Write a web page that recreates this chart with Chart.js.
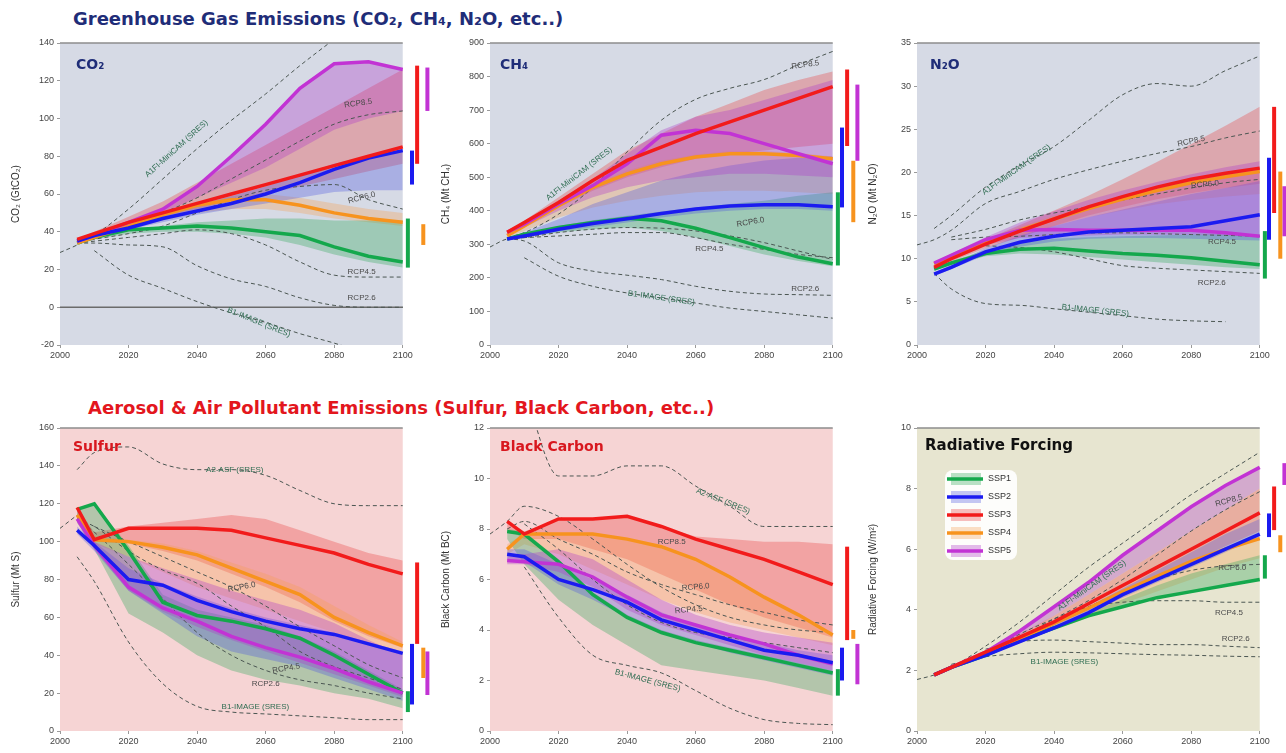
<!DOCTYPE html>
<html lang="en">
<head>
<meta charset="UTF-8">
<title>SSP emissions and radiative forcing</title>
<script src="https://cdn.jsdelivr.net/npm/chart.js"></script>
<style>
    body {
        margin: 0;
        width: 1286px;
        height: 753px;
        overflow: hidden;
        background: #fff;
        position: relative;
        font-family: "Liberation Sans", Arial, sans-serif;
    }
    canvas { position: absolute; }
    .head {
        position: absolute;
        font-family: "DejaVu Sans", sans-serif;
        font-weight: bold;
        font-size: 18px;
        white-space: nowrap;
        z-index: 5;
    }
    .lab {
        position: absolute;
        font-family: "DejaVu Sans", sans-serif;
        font-weight: bold;
        font-size: 14px;
        white-space: nowrap;
        z-index: 5;
    }
</style>
</head>
<body>
<div class="head" style="left:73px;top:8px;color:#1f2d78">Greenhouse Gas Emissions (CO₂, CH₄, N₂O, etc..)</div>
<div class="head" style="left:88px;top:397px;color:#e3161d">Aerosol &amp; Air Pollutant Emissions (Sulfur, Black Carbon, etc..)</div>
<div class="lab" style="left:76px;top:56px;color:#1f2d78">CO₂</div>
<div class="lab" style="left:500px;top:56px;color:#1f2d78">CH₄</div>
<div class="lab" style="left:930px;top:56px;color:#1f2d78">N₂O</div>
<div class="lab" style="left:73px;top:438px;color:#d8171e">Sulfur</div>
<div class="lab" style="left:500px;top:438px;color:#d8171e">Black Carbon</div>
<div class="lab" style="left:925px;top:436px;color:#111;font-size:15px">Radiative Forcing</div>

<script>
// ---- data ----
const sspNames = ['SSP1', 'SSP2', 'SSP3', 'SSP4', 'SSP5'];
const sspYears = [2005, 2010, 2020, 2030, 2040, 2050, 2060, 2070, 2080, 2090, 2100];
const refYears = [2000, 2005, 2010, 2020, 2030, 2040, 2050, 2060, 2070, 2080, 2090, 2100];
const xTicks = [2000, 2020, 2040, 2060, 2080, 2100];

// CO2 (GtCO2)
const co2Ticks = [-20, 0, 20, 40, 60, 80, 100, 120, 140];
const co2Lines = [
    [34, 37, 41, 42, 43, 42, 40, 38, 32, 27, 24],
    [35, 38, 42, 47, 51, 55, 60, 66, 73, 79, 83],
    [36, 39, 45, 50, 55, 60, 65, 70, 75, 80, 85],
    [34, 37, 43, 49, 54, 57, 57, 54, 50, 47, 45],
    [35, 38, 45, 52, 64, 80, 97, 116, 129, 130, 126]
];
const co2Lo = [
    [34, 36, 39, 40, 40, 39, 37, 33, 28, 24, 21],
    [35, 37, 41, 45, 49, 52, 55, 58, 61, 62, 62],
    [36, 38, 43, 48, 52, 56, 60, 64, 68, 72, 76],
    [34, 36, 41, 46, 50, 52, 52, 50, 47, 45, 43],
    [35, 38, 44, 50, 58, 66, 74, 84, 94, 100, 104]
];
const co2Hi = [
    [34, 37, 41, 43, 45, 46, 47, 47, 46, 46, 46],
    [35, 38, 43, 49, 54, 59, 64, 70, 76, 80, 84],
    [36, 40, 48, 56, 66, 76, 86, 96, 106, 116, 126],
    [34, 37, 44, 51, 56, 59, 60, 58, 55, 52, 50],
    [35, 38, 45, 52, 64, 80, 97, 116, 129, 130, 126]
];
const co2Ranges = [[21, 47], [65, 83], [76, 128], [33, 44], [104, 127]];
const co2Refs = [
    [29, 33, 38, 52, 68, 84, 99, 113, 128, 142, null, null],
    [null, 35, 37, 43, 50, 58, 68, 78, 88, 97, 102, 104],
    [null, 34, 36, 39, 43, 50, 57, 62, 64, 65, 57, 52],
    [null, 34, 35, 37, 39, 41, 39, 33, 24, 17, 16, 16],
    [null, 34, 34, 33, 32, 22, 15, 11, 5, 1, 0, 0],
    [null, null, 30, 17, 10, 3, -3, -8, -14, -19, -25, null]
];
const co2Zero = [0, 0, 0, 0, 0, 0, 0, 0, 0, 0, 0, 0];
const co2Notes = [
    ['A1FI-MiniCAM (SRES)', 2034, 84, -42, 1],
    ['RCP8.5', 2087, 108, -8, 0],
    ['RCP6.0', 2088, 58, -15, 0],
    ['RCP4.5', 2088, 19, 0, 0],
    ['RCP2.6', 2088, 5, 0, 0],
    ['B1-IMAGE (SRES)', 2058, -8, 22, 1]
];

// CH4 (Mt CH4)
const ch4Ticks = [0, 100, 200, 300, 400, 500, 600, 700, 800, 900];
const ch4Lines = [
    [316, 330, 350, 365, 378, 370, 348, 320, 290, 262, 242],
    [316, 325, 345, 362, 376, 392, 405, 414, 418, 418, 412],
    [336, 365, 425, 490, 550, 590, 630, 665, 700, 735, 770],
    [326, 355, 415, 470, 510, 540, 560, 570, 570, 565, 555],
    [336, 360, 420, 475, 540, 625, 640, 630, 600, 570, 540]
];
const ch4Lo = [
    [312, 322, 335, 345, 350, 340, 320, 295, 270, 250, 235],
    [312, 320, 338, 352, 365, 380, 392, 400, 405, 405, 400],
    [330, 355, 410, 460, 500, 530, 555, 570, 580, 590, 600],
    [320, 340, 380, 410, 430, 445, 455, 460, 460, 455, 450],
    [330, 350, 400, 440, 470, 490, 500, 510, 510, 505, 500]
];
const ch4Hi = [
    [316, 332, 355, 372, 385, 398, 410, 420, 430, 445, 455],
    [320, 335, 375, 420, 455, 490, 515, 535, 550, 558, 562],
    [336, 370, 440, 510, 580, 630, 680, 720, 760, 790, 815],
    [326, 357, 420, 478, 520, 550, 568, 578, 578, 572, 562],
    [336, 365, 430, 495, 570, 640, 680, 700, 730, 760, 790]
];
const ch4Ranges = [[237, 455], [410, 648], [593, 821], [366, 549], [549, 776]];
const ch4Refs = [
    [null, 320, 335, 390, 470, 575, 670, 732, 765, 791, 835, 875],
    [292, 316, 320, 325, 330, 335, 335, 320, 300, 285, 270, 260],
    [null, 316, 320, 335, 345, 350, 348, 340, 325, 305, 280, 255],
    [null, 316, 310, 245, 220, 208, 195, 175, 160, 152, 150, 148],
    [null, null, 260, 205, 175, 155, 140, 125, 110, 100, 90, 80]
];
const ch4Notes = [
    ['A1FI-MiniCAM (SRES)', 2026, 510, -38, 1],
    ['RCP8.5', 2092, 835, -8, 0],
    ['RCP6.0', 2076, 366, -10, 0],
    ['RCP4.5', 2064, 287, 0, 0],
    ['RCP2.6', 2092, 168, 0, 0],
    ['B1-IMAGE (SRES)', 2050, 140, 8, 1]
];

// N2O (Mt N2O)
const n2oTicks = [0, 5, 10, 15, 20, 25, 30, 35];
const n2oLines = [
    [8.8, 9.5, 10.6, 11.1, 11.2, 10.9, 10.6, 10.4, 10.1, 9.7, 9.3],
    [8.2, 9.0, 10.8, 11.9, 12.6, 13.1, 13.3, 13.5, 13.7, 14.4, 15.1],
    [9.0, 10.0, 11.7, 13.2, 14.6, 16.0, 17.2, 18.3, 19.2, 19.9, 20.5],
    [9.4, 10.3, 11.9, 13.3, 14.6, 15.8, 16.9, 17.9, 18.8, 19.5, 20.1],
    [9.5, 10.4, 12.2, 13.3, 13.4, 13.3, 13.3, 13.3, 13.3, 13.0, 12.6]
];
const n2oLo = [
    [8.6, 9.3, 10.3, 10.6, 10.5, 10.2, 9.9, 9.6, 9.3, 9.0, 8.8],
    [8.0, 8.8, 10.4, 11.4, 12.0, 12.3, 12.4, 12.4, 12.3, 12.2, 12.1],
    [8.8, 9.7, 11.2, 12.5, 13.8, 15.0, 16.0, 16.9, 17.6, 18.2, 18.7],
    [9.2, 10.0, 11.5, 12.7, 13.8, 14.8, 15.6, 16.3, 16.8, 17.2, 17.5],
    [9.3, 10.1, 11.6, 12.4, 12.6, 12.7, 12.8, 12.8, 12.8, 12.7, 12.6]
];
const n2oHi = [
    [8.9, 9.7, 11.0, 11.8, 12.3, 12.5, 12.6, 12.7, 12.8, 12.8, 12.8],
    [8.4, 9.3, 11.2, 12.7, 13.8, 14.8, 15.7, 16.6, 17.5, 18.2, 19.0],
    [9.2, 10.3, 12.2, 13.9, 15.6, 17.3, 19.2, 21.2, 23.3, 25.4, 27.6],
    [9.5, 10.5, 12.2, 13.7, 15.0, 16.2, 17.3, 18.3, 19.2, 19.9, 20.5],
    [9.6, 10.6, 12.5, 14.2, 15.5, 16.8, 17.9, 18.9, 19.8, 20.6, 21.3]
];
const n2oRanges = [[7.7, 13.2], [12.2, 21.7], [15.3, 27.6], [10.0, 20.1], [12.6, 18.4]];
const n2oRefs = [
    [null, 13.5, 15.0, 18.3, 20.8, 23.0, 26.0, 29.0, 30.3, 30.0, 31.8, 33.5],
    [11.6, 12.2, 13.3, 16.4, 17.8, 19.2, 20.3, 21.3, 22.2, 23.0, 24.0, 24.8],
    [null, null, 12.5, 13.4, 14.5, 15.3, 16.0, 16.8, 17.5, 18.2, 18.8, 19.2],
    [null, null, 12.2, 12.5, 12.6, 12.8, 13.0, 13.0, 12.9, 12.8, 12.7, 12.6],
    [null, null, null, 11.5, 11.3, 10.8, 10.0, 9.2, 8.9, 8.7, 8.5, 8.3],
    [null, 8.3, 6.5, 4.8, 4.6, 4.2, 3.8, 3.4, 3.0, 2.8, 2.7, null]
];
const n2oNotes = [
    ['A1FI-MiniCAM (SRES)', 2029, 20.3, -35, 1],
    ['RCP8.5', 2080, 23.6, -12, 0],
    ['RCP6.0', 2084, 18.6, -6, 0],
    ['RCP4.5', 2089, 12, 0, 0],
    ['RCP2.6', 2086, 7.2, 0, 0],
    ['B1-IMAGE (SRES)', 2052, 4, 6, 1]
];

// Sulfur (Mt S)
const sulTicks = [0, 20, 40, 60, 80, 100, 120, 140, 160];
const sulLines = [
    [117, 120, 95, 68, 61, 58, 54, 49, 40, 30, 20],
    [106, 98, 80, 77, 69, 63, 58, 54, 51, 46, 41],
    [118, 101, 107, 107, 107, 106, 102, 98, 94, 88, 83],
    [114, 101, 100, 97, 93, 86, 79, 72, 60, 52, 45],
    [112, 98, 76, 65, 58, 50, 44, 39, 33, 26, 20]
];
const sulLo = [
    [110, 96, 62, 52, 40, 32, 27, 24, 20, 17, 12],
    [104, 95, 74, 62, 50, 42, 38, 34, 28, 22, 16],
    [114, 100, 99, 95, 90, 83, 76, 68, 58, 50, 44],
    [112, 99, 92, 84, 76, 70, 64, 58, 52, 46, 40],
    [110, 96, 74, 63, 55, 48, 42, 36, 30, 24, 18]
];
const sulHi = [
    [118, 120, 98, 72, 64, 60, 56, 50, 42, 32, 22],
    [108, 100, 86, 78, 71, 65, 60, 56, 52, 47, 42],
    [118, 105, 108, 110, 112, 114, 112, 106, 100, 94, 90],
    [114, 103, 101, 99, 95, 89, 83, 76, 66, 56, 47],
    [112, 100, 92, 86, 80, 74, 69, 64, 57, 48, 40]
];
const sulRanges = [[10, 21], [14, 46], [46, 89], [28, 44], [19, 42]];
const sulRefs = [
    [null, 138, 147, 150, 141, 138, 138, 135, 127, 120, 119, 119],
    [107, 114, null, null, null, null, null, null, null, null, null, null],
    [null, 92, 79, 47, 25, 13, 10, 9, 8, 7, 6, 6],
    [null, 112, 105, 88, 70, 52, 40, 32, 27, 24, 20, 17],
    [null, 112, 108, 95, 85, 78, 66, 55, 42, 34, 28, 22],
    [null, null, 108, 100, 92, 84, 76, 66, 55, 45, 35, 28]
];
const sulNotes = [
    ['A2-ASF (SRES)', 2051, 138, 0, 1],
    ['RCP6.0', 2053, 76, -10, 0],
    ['RCP4.5', 2066, 33, -10, 0],
    ['RCP2.6', 2060, 25, 0, 0],
    ['B1-IMAGE (SRES)', 2057, 13, 0, 1]
];

// Black carbon (Mt BC)
const bcTicks = [0, 2, 4, 6, 8, 10, 12];
const bcLines = [
    [7.9, 7.8, 6.7, 5.4, 4.5, 3.9, 3.5, 3.2, 2.9, 2.6, 2.3],
    [7.0, 6.9, 6.0, 5.6, 5.1, 4.4, 4.0, 3.6, 3.2, 3.0, 2.7],
    [8.3, 7.8, 8.4, 8.4, 8.5, 8.1, 7.6, 7.2, 6.8, 6.3, 5.8],
    [7.2, 7.8, 7.8, 7.8, 7.6, 7.3, 6.8, 6.1, 5.3, 4.6, 3.8],
    [6.75, 6.7, 6.6, 6.1, 5.3, 4.6, 4.2, 3.8, 3.45, 3.0, 2.65]
];
const bcLo = [
    [7.6, 6.6, 5.2, 4.2, 3.4, 2.6, 2.4, 2.2, 2.0, 1.7, 1.4],
    [6.8, 6.7, 5.8, 5.2, 4.5, 3.9, 3.5, 3.1, 2.8, 2.5, 2.2],
    [8.0, 7.6, 7.6, 7.2, 6.8, 6.2, 5.6, 5.0, 4.5, 4.1, 3.7],
    [7.0, 7.4, 7.0, 6.4, 5.8, 5.2, 4.7, 4.3, 4.0, 3.7, 3.4],
    [6.6, 6.6, 6.3, 5.7, 4.8, 4.2, 3.8, 3.4, 3.0, 2.7, 2.4]
];
const bcHi = [
    [8.0, 7.9, 6.8, 5.5, 4.6, 4.0, 3.6, 3.3, 3.0, 2.7, 2.4],
    [7.2, 7.2, 6.6, 6.0, 5.4, 4.7, 4.2, 3.8, 3.5, 3.2, 3.0],
    [8.3, 7.9, 8.4, 8.4, 8.5, 8.1, 7.7, 7.6, 7.5, 7.5, 7.4],
    [7.4, 7.8, 7.8, 7.8, 7.6, 7.3, 6.8, 6.1, 5.3, 4.6, 3.9],
    [7.0, 7.0, 7.2, 6.8, 6.0, 5.2, 4.6, 4.2, 3.9, 3.7, 3.5]
];
const bcRanges = [[1.4, 2.45], [2.0, 3.3], [3.6, 7.3], [3.65, 4.0], [1.85, 3.45]];
const bcRefs = [
    [null, null, 13.5, 10.1, 10.1, 10.5, 10.5, 9.7, 8.9, 8.1, 8.1, 8.1],
    [null, null, 6.5, 4.5, 3.0, 2.6, 2.3, 1.6, 0.9, 0.45, 0.3, 0.25],
    [null, 8.0, 8.3, 7.6, 7.0, 6.3, 5.8, 5.4, 5.0, 4.7, 4.4, 4.2],
    [null, null, 8.2, 7.2, 6.0, 5.0, 4.3, 3.9, 3.7, 3.5, 3.3, 3.1],
    [7.8, 8.3, 8.9, 8.5, 7.6, 6.6, 5.7, 5.0, 4.5, 4.2, 4.0, 3.9]
];
const bcNotes = [
    ['A2-ASF (SRES)', 2068, 9.1, 22, 1],
    ['RCP8.5', 2053, 7.5, 0, 0],
    ['RCP6.0', 2060, 5.7, -5, 0],
    ['RCP4.5', 2058, 4.8, -5, 0],
    ['B1-IMAGE (SRES)', 2046, 2.0, 15, 1]
];

// Radiative forcing (W/m2)
const rfTicks = [0, 2, 4, 6, 8, 10];
const rfLines = [
    [1.85, 2.1, 2.5, 3.0, 3.4, 3.8, 4.1, 4.4, 4.6, 4.8, 5.0],
    [1.85, 2.1, 2.5, 2.95, 3.4, 3.9, 4.5, 5.0, 5.5, 6.0, 6.5],
    [1.85, 2.1, 2.6, 3.1, 3.6, 4.2, 4.8, 5.4, 6.0, 6.6, 7.2],
    [1.85, 2.1, 2.55, 3.05, 3.55, 4.05, 4.6, 5.1, 5.6, 6.0, 6.35],
    [1.85, 2.1, 2.6, 3.3, 4.1, 4.9, 5.8, 6.6, 7.4, 8.1, 8.7]
];
const rfLo = [
    [1.85, 2.1, 2.5, 3.0, 3.4, 3.8, 4.1, 4.4, 4.6, 4.8, 5.0],
    [1.85, 2.1, 2.5, 2.9, 3.35, 3.85, 4.4, 4.9, 5.4, 5.9, 6.4],
    [1.85, 2.1, 2.55, 3.0, 3.5, 4.0, 4.6, 5.1, 5.6, 6.1, 6.6],
    [1.85, 2.1, 2.5, 2.9, 3.35, 3.75, 4.2, 4.6, 5.0, 5.4, 5.7],
    [1.85, 2.1, 2.55, 3.15, 3.8, 4.5, 5.2, 5.9, 6.6, 7.3, 8.0]
];
const rfHi = [
    [1.85, 2.1, 2.5, 3.0, 3.45, 3.9, 4.35, 4.8, 5.2, 5.5, 5.8],
    [1.85, 2.1, 2.55, 3.05, 3.6, 4.1, 4.7, 5.3, 5.9, 6.5, 7.0],
    [1.85, 2.1, 2.6, 3.2, 3.8, 4.5, 5.2, 5.9, 6.6, 7.3, 8.0],
    [1.85, 2.1, 2.55, 3.05, 3.55, 4.05, 4.6, 5.1, 5.6, 6.0, 6.4],
    [1.85, 2.1, 2.6, 3.3, 4.1, 4.9, 5.8, 6.6, 7.4, 8.1, 8.7]
];
const rfRanges = [[5.03, 5.8], [6.4, 7.18], [6.63, 8.07], [5.9, 6.46], [8.12, 8.84]];
const rfRefs = [
    [1.7, 1.85, 2.1, 2.8, 3.6, 4.5, 5.4, 6.2, 7.0, 7.8, 8.5, 9.2],
    [null, 1.85, 2.1, 2.55, 3.1, 3.7, 4.3, 5.0, 5.8, 6.6, 7.3, 7.9],
    [null, null, null, 2.6, 3.1, 3.6, 4.1, 4.6, 5.0, 5.3, 5.45, 5.5],
    [null, null, null, 2.6, 3.2, 3.7, 4.1, 4.25, 4.3, 4.3, 4.25, 4.25],
    [null, null, null, 2.7, 2.95, 3.0, 2.95, 2.9, 2.85, 2.85, 2.8, 2.75],
    [null, null, 2.2, 2.45, 2.55, 2.6, 2.58, 2.55, 2.52, 2.5, 2.47, 2.45]
];
const rfNotes = [
    ['A1FI-MiniCAM (SRES)', 2051, 4.8, -35, 1],
    ['RCP8.5', 2091, 7.6, -15, 0],
    ['RCP6.0', 2092, 5.4, 0, 0],
    ['RCP4.5', 2091, 3.9, 0, 0],
    ['RCP2.6', 2093, 3.05, 0, 0],
    ['B1-IMAGE (SRES)', 2043, 2.27, 0, 1]
];

// ---- drawing ----
const lineColors = ['#14a84c', '#1b1bf0', '#f21b1b', '#f7931e', '#c233d4'];
const bandColors = ['rgba(55,170,95,0.35)', 'rgba(75,85,225,0.32)', 'rgba(235,65,65,0.33)', 'rgba(245,160,80,0.32)', 'rgba(175,60,200,0.35)'];
const rangeX = [2101.5, 2102.7, 2104.2, 2106, 2107.2]; // where the 2100 range bars sit
const FONT = '"Liberation Sans", Arial, sans-serif';

const panels = [
    { left: 60, top: 43, bottom: 345, bg: '#d6dae5', yTitle: 'CO₂ (GtCO₂)', ticks: co2Ticks,
      lines: co2Lines, lo: co2Lo, hi: co2Hi, ranges: co2Ranges, refs: co2Refs, notes: co2Notes, zero: co2Zero },
    { left: 490, top: 43, bottom: 345, bg: '#d6dae5', yTitle: 'CH₄ (Mt CH₄)', ticks: ch4Ticks,
      lines: ch4Lines, lo: ch4Lo, hi: ch4Hi, ranges: ch4Ranges, refs: ch4Refs, notes: ch4Notes },
    { left: 917, top: 43, bottom: 345, bg: '#d6dae5', yTitle: 'N₂O (Mt N₂O)', ticks: n2oTicks,
      lines: n2oLines, lo: n2oLo, hi: n2oHi, ranges: n2oRanges, refs: n2oRefs, notes: n2oNotes },
    { left: 60, top: 428, bottom: 731, bg: '#f6d4d4', yTitle: 'Sulfur (Mt S)', ticks: sulTicks,
      lines: sulLines, lo: sulLo, hi: sulHi, ranges: sulRanges, refs: sulRefs, notes: sulNotes },
    { left: 490, top: 428, bottom: 731, bg: '#f6d4d4', yTitle: 'Black Carbon (Mt BC)', ticks: bcTicks,
      lines: bcLines, lo: bcLo, hi: bcHi, ranges: bcRanges, refs: bcRefs, notes: bcNotes },
    { left: 917, top: 428, bottom: 731, bg: '#e7e5d0', yTitle: 'Radiative Forcing (W/m²)', ticks: rfTicks,
      lines: rfLines, lo: rfLo, hi: rfHi, ranges: rfRanges, refs: rfRefs, notes: rfNotes, legend: true }
];

function pts(xs, ys) {
    return xs.map((x, i) => ({ x: x, y: ys[i] })).filter(p => p.y !== null);
}

function buildDatasets(p) {
    const ds = [];
    // shaded ranges; first listed ends up on top
    [4, 1, 0, 3, 2].forEach(i => {
        ds.push({ data: pts(sspYears, p.lo[i]), borderColor: 'transparent', borderWidth: 0, pointRadius: 0, fill: false, order: 3 });
        ds.push({ data: pts(sspYears, p.hi[i]), borderColor: 'transparent', borderWidth: 0, pointRadius: 0,
                  fill: '-1', backgroundColor: bandColors[i], order: 3 });
    });
    p.refs.forEach(r => ds.push({
        data: pts(refYears, r), borderColor: '#4b5652', borderWidth: 1, borderDash: [4, 3],
        pointRadius: 0, cubicInterpolationMode: 'monotone', tension: 0.3, fill: false, order: 2
    }));
    if (p.zero) {
        ds.push({ data: pts(refYears, p.zero), borderColor: '#6b6b6b', borderWidth: 1.5, pointRadius: 0, fill: false, order: 2 });
    }
    [2, 1, 4, 3, 0].forEach(i => ds.push({
        data: pts(sspYears, p.lines[i]), borderColor: lineColors[i], borderWidth: 3.5,
        pointRadius: 0, fill: false, order: 1
    }));
    p.ranges.forEach((r, i) => ds.push({
        data: [{ x: rangeX[i], y: r[0] }, { x: rangeX[i], y: r[1] }],
        borderColor: lineColors[i], borderWidth: 4, borderCapStyle: 'butt', pointRadius: 0, fill: false, order: 0
    }));
    return ds;
}

function bgPlugin(p) {
    return {
        id: 'panelBg',
        beforeDatasetsDraw(chart) {
            const { ctx, chartArea: a, scales: { x } } = chart;
            const r = x.getPixelForValue(2100);
            ctx.save();
            ctx.fillStyle = p.bg;
            ctx.fillRect(a.left, a.top, r - a.left, a.bottom - a.top);
            ctx.strokeStyle = '#8c8c8c';
            ctx.lineWidth = 1.5;
            ctx.beginPath();
            ctx.moveTo(a.left, a.top);
            ctx.lineTo(r, a.top);
            ctx.stroke();
            ctx.restore();
        }
    };
}

function notesPlugin(p) {
    return {
        id: 'notes',
        afterDatasetsDraw(chart) {
            const { ctx, scales: { x, y } } = chart;
            ctx.save();
            ctx.font = '8px ' + FONT;
            ctx.textAlign = 'center';
            ctx.textBaseline = 'middle';
            p.notes.forEach(n => {
                ctx.save();
                ctx.translate(x.getPixelForValue(n[1]), y.getPixelForValue(n[2]));
                ctx.rotate(n[3] * Math.PI / 180);
                ctx.fillStyle = n[4] ? '#2f6d52' : '#4a4a4a';
                ctx.fillText(n[0], 0, 0);
                ctx.restore();
            });
            ctx.restore();
        }
    };
}

function legendPlugin(p) {
    return {
        id: 'sspLegend',
        afterDatasetsDraw(chart) {
            if (!p.legend) return;
            const { ctx, chartArea: a } = chart;
            const x0 = a.left + 28, y0 = a.top + 42;
            ctx.save();
            ctx.fillStyle = 'rgba(255,255,255,0.9)';
            ctx.beginPath();
            ctx.roundRect(x0, y0, 72, 90, 8);
            ctx.fill();
            ctx.font = '9px ' + FONT;
            ctx.textBaseline = 'middle';
            sspNames.forEach((name, i) => {
                const yy = y0 + 9 + i * 18;
                ctx.fillStyle = bandColors[i];
                ctx.fillRect(x0 + 6, yy - 6, 30, 12);
                ctx.strokeStyle = lineColors[i];
                ctx.lineWidth = 3.5;
                ctx.beginPath();
                ctx.moveTo(x0 + 2, yy);
                ctx.lineTo(x0 + 38, yy);
                ctx.stroke();
                ctx.fillStyle = '#333';
                ctx.fillText(name, x0 + 43, yy);
            });
            ctx.restore();
        }
    };
}

panels.forEach(p => {
    const canvas = document.createElement('canvas');
    const w = 60 + 377 + 4;
    const h = 10 + (p.bottom - p.top) + 24;
    canvas.width = w;
    canvas.height = h;
    canvas.style.left = (p.left - 60) + 'px';
    canvas.style.top = (p.top - 10) + 'px';
    document.body.appendChild(canvas);

    const tickFont = { size: 9, family: FONT };
    new Chart(canvas, {
        type: 'line',
        data: { datasets: buildDatasets(p) },
        options: {
            responsive: false,
            animation: false,
            devicePixelRatio: 1,
            layout: { padding: { top: 10, right: 4, left: 0, bottom: 0 } },
            plugins: { legend: { display: false }, tooltip: { enabled: false } },
            scales: {
                x: {
                    type: 'linear', min: 2000, max: 2110,
                    afterBuildTicks: s => { s.ticks = xTicks.map(v => ({ value: v })); },
                    afterFit: s => { s.height = 24; },
                    ticks: { callback: v => String(v), font: tickFont, color: '#444', padding: 2, maxRotation: 0, autoSkip: false },
                    grid: { display: true, drawOnChartArea: false, tickLength: 3, color: '#9a9a9a' },
                    border: { display: false }
                },
                y: {
                    type: 'linear', min: p.ticks[0], max: p.ticks[p.ticks.length - 1],
                    afterBuildTicks: s => { s.ticks = p.ticks.map(v => ({ value: v })); },
                    afterFit: s => { s.width = 60; },
                    ticks: { font: tickFont, color: '#444', padding: 3, autoSkip: false },
                    grid: { display: true, drawOnChartArea: false, tickLength: 3, color: '#9a9a9a' },
                    border: { display: false },
                    title: { display: true, text: p.yTitle, font: { size: 10, family: FONT }, color: '#333', padding: { top: 10, bottom: 0 } }
                }
            }
        },
        plugins: [bgPlugin(p), notesPlugin(p), legendPlugin(p)]
    });
});
</script>
</body>
</html>
